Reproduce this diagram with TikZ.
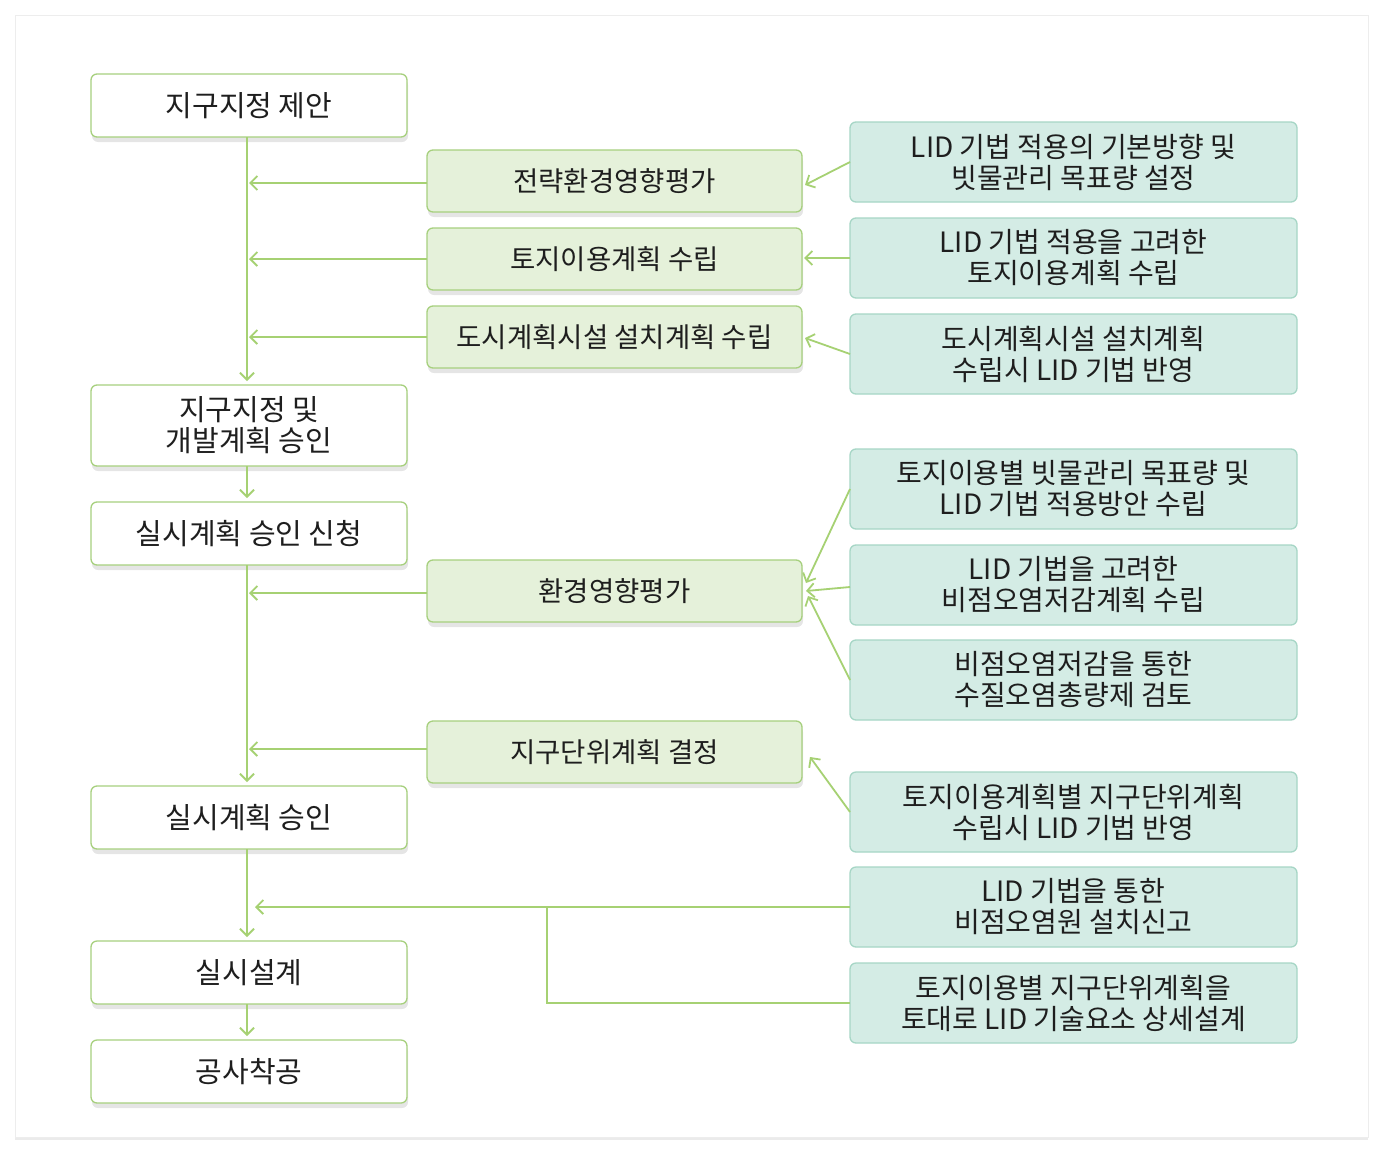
\documentclass[tikz,border=0pt]{standalone}
\usepackage{fontspec}
\setmainfont{Noto Sans CJK KR}
\usetikzlibrary{positioning}
\usetikzlibrary{arrows.meta}
\usetikzlibrary{shadows}

\definecolor{linegreen}{HTML}{A6D173}
\definecolor{stepfill}{HTML}{E5F1DA}
\definecolor{stepdraw}{HTML}{A7D07E}
\definecolor{lidfill}{HTML}{D4ECE5}
\definecolor{liddraw}{HTML}{A6D6C6}
\definecolor{textgray}{HTML}{1E1E1E}

\begin{document}
\begin{tikzpicture}[
            x=1pt, y=-1pt,
            mainnode/.style={rectangle, rounded corners=6pt, align=center, draw=stepdraw, line width=1.3pt, fill=white,
                minimum width=316pt, minimum height=63pt, inner sep=2pt, outer sep=0pt, text=textgray,
                font=\fontsize{29}{31}\selectfont,
                drop shadow={shadow xshift=1pt, shadow yshift=-5pt, opacity=0.10, fill=black}},
            stepnode/.style={rectangle, rounded corners=6pt, align=center, draw=stepdraw, line width=1.3pt, fill=stepfill,
                minimum width=375pt, minimum height=62pt, inner sep=2pt, outer sep=0pt, text=textgray,
                font=\fontsize{27.5}{31}\selectfont,
                drop shadow={shadow xshift=1pt, shadow yshift=-5pt, opacity=0.10, fill=black}},
            lidnode/.style={rectangle, rounded corners=6pt, align=center, draw=liddraw, line width=1.3pt, fill=lidfill,
                minimum width=447pt, minimum height=80pt, inner sep=2pt, outer sep=0pt, text=textgray,
                font=\fontsize{28}{31}\selectfont},
            arr/.style={draw=linegreen, line width=1.8pt, -{Straight Barb[length=7pt, width=14pt, line width=1.8pt]}},
            plainline/.style={draw=linegreen, line width=1.8pt},
        ]

        % Frame.
        \useasboundingbox (0,0) rectangle (1384,1151);
        \fill[white] (0,0) rectangle (1384,1151);
        \filldraw[fill=white, draw=black!7, line width=1pt,
            drop shadow={shadow xshift=0pt, shadow yshift=-3pt, opacity=0.08, fill=black}] (15,15) rectangle (1368,1137);

        % Nodes.
        \node[mainnode] (propose)   at (249,105.5)              {지구지정 제안};
        \node[mainnode, minimum height=81pt] (approve) [below=248pt of propose] {지구지정 및\\개발계획 승인};
        \node[mainnode] (request)   [below=36pt of approve]     {실시계획 승인 신청};
        \node[mainnode] (permit)    [below=221pt of request]    {실시계획 승인};
        \node[mainnode] (design)    [below=92pt of permit]      {실시설계};
        \node[mainnode] (construct) [below=36pt of design]      {공사착공};

        \node[stepnode] (sea)       at (614.5,181)              {전략환경영향평가};
        \node[stepnode] (landplan)  [below=16pt of sea]         {토지이용계획 수립};
        \node[stepnode] (facility)  [below=16pt of landplan]    {도시계획시설 설치계획 수립};
        \node[stepnode] (eia)       at (614.5,591)              {환경영향평가};
        \node[stepnode] (district)  at (614.5,752)              {지구단위계획 결정};

        \node[lidnode] (lid_goal)     at (1073.5,162)             {LID 기법 적용의 기본방향 및\\빗물관리 목표량 설정};
        \node[lidnode] (lid_land)     [below=16pt of lid_goal]    {LID 기법 적용을 고려한\\토지이용계획 수립};
        \node[lidnode] (lid_facility) [below=16pt of lid_land]    {도시계획시설 설치계획\\수립시 LID 기법 반영};
        \node[lidnode] (lid_target)   at (1073.5,489)             {토지이용별 빗물관리 목표량 및\\LID 기법 적용방안 수립};
        \node[lidnode] (lid_npsplan)  [below=16pt of lid_target]  {LID 기법을 고려한\\비점오염저감계획 수립};
        \node[lidnode] (lid_tmdl)     [below=15pt of lid_npsplan] {비점오염저감을 통한\\수질오염총량제 검토};
        \node[lidnode] (lid_district) at (1073.5,812)             {토지이용계획별 지구단위계획\\수립시 LID 기법 반영};
        \node[lidnode] (lid_report)   [below=15pt of lid_district] {LID 기법을 통한\\비점오염원 설치신고};
        \node[lidnode] (lid_detail)   [below=16pt of lid_report]  {토지이용별 지구단위계획을\\토대로 LID 기술요소 상세설계};

        % Lines.
        \draw[arr] ([xshift=-2pt]propose.south) -- ([xshift=-2pt, yshift=4pt]approve.north);
        \draw[arr] ([xshift=-2pt]approve.south) -- ([xshift=-2pt, yshift=4pt]request.north);
        \draw[arr] ([xshift=-2pt]request.south) -- ([xshift=-2pt, yshift=4pt]permit.north);
        \draw[arr] ([xshift=-2pt]permit.south) -- ([xshift=-2pt, yshift=4pt]design.north);
        \draw[arr] ([xshift=-2pt]design.south) -- ([xshift=-2pt, yshift=4pt]construct.north);

        \draw[arr] ([yshift=-2pt]sea.west) -- ([yshift=-2pt]sea.west -| propose.south);
        \draw[arr] (landplan.west) -- (landplan.west -| propose.south);
        \draw[arr] (facility.west) -- (facility.west -| propose.south);
        \draw[arr] ([yshift=-2pt]eia.west) -- ([yshift=-2pt]eia.west -| propose.south);
        \draw[arr] ([yshift=3pt]district.west) -- ([yshift=3pt]district.west -| propose.south);

        \draw[arr] (lid_goal.west) -- ([xshift=3pt, yshift=-4pt]sea.east);
        \draw[arr] (lid_land.west) -- ([xshift=2pt]lid_land.west -| landplan.east);
        \draw[arr] (lid_facility.west) -- ([xshift=3pt, yshift=-1pt]facility.east);
        \draw[arr] (lid_target.west) -- ([xshift=4pt, yshift=8pt]eia.east);
        \draw[arr] ([yshift=-2pt]lid_npsplan.west) -- ([xshift=4pt]eia.east);
        \draw[arr] (lid_tmdl.west) -- ([xshift=6pt, yshift=-5pt]eia.east);
        \draw[arr] (lid_district.west) -- ([xshift=8pt, yshift=-5pt]district.east);

        \coordinate (merge) at (547,0 |- lid_report.west);
        \draw[arr] (lid_report.west) -- ([xshift=6pt]lid_report.west -| propose.south);
        \draw[plainline] (lid_detail.west) -| (merge);
    \end{tikzpicture}
\end{document}
